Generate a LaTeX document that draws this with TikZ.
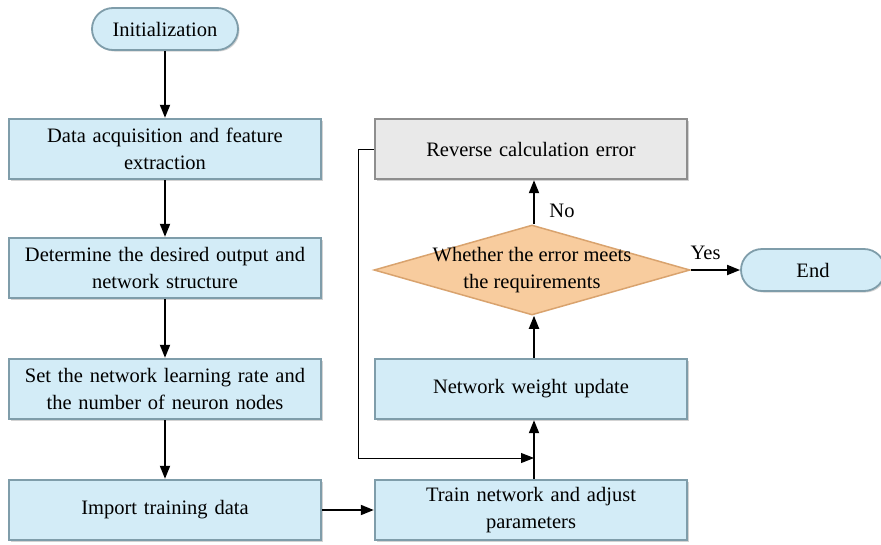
\documentclass[tikz,border=0pt]{standalone}
\usepackage{fontspec}
\setmainfont{Liberation Serif}
\usetikzlibrary{arrows.meta,shapes.geometric,shadows}
\definecolor{boxfill}{HTML}{D3ECF7}
\definecolor{boxedge}{HTML}{7F9DAA}
\definecolor{grayfill}{HTML}{E9E9E9}
\definecolor{grayedge}{HTML}{8E8E8E}
\definecolor{diafill}{HTML}{F8CC9E}
\definecolor{diaedge}{HTML}{D9A36E}
\begin{document}
\begin{tikzpicture}[x=1pt,y=-1pt,
  every node/.style={font=\fontsize{20.5}{27}\selectfont},
  procbox/.style={draw=boxedge,line width=2.4pt,fill=boxfill,minimum width=312pt,minimum height=60pt,align=center,text width=308pt,inner sep=0pt,
     drop shadow={shadow xshift=1.5pt,shadow yshift=-1.5pt,opacity=0.35}},
  graybox/.style={procbox,draw=grayedge,fill=grayfill},
  termbox/.style={draw=boxedge,line width=1.8pt,fill=boxfill,rounded corners=21pt,minimum height=42pt,align=center,inner sep=0pt,
     drop shadow={shadow xshift=1.5pt,shadow yshift=-1.5pt,opacity=0.35}},
  decbox/.style={diamond,draw=diaedge,line width=1.5pt,fill=diafill,inner sep=0pt,minimum width=316pt,minimum height=90pt},
  flow/.style={line width=1.8pt,-{Triangle[length=13pt,width=10pt]}},
  thinflow/.style={line width=1pt,-{Triangle[length=13pt,width=10pt]}},
  lbl/.style={inner sep=0pt}
]
\useasboundingbox (0,0) rectangle (881,544);
\node[termbox,minimum width=146pt] (init) at (165,29) {Initialization};
\node[procbox] (acq) at (165,149) {Data acquisition and feature\\extraction};
\node[procbox] (det) at (165,268) {Determine the desired output and\\network structure};
\node[procbox] (set) at (165,389) {Set the network learning rate and\\the number of neuron nodes};
\node[procbox] (imp) at (165,510) {Import training data};
\node[procbox] (train) at (531,510) {Train network and adjust\\parameters};
\node[procbox] (upd) at (531,389) {Network weight update};
\node[decbox] (dec) at (532,270) {};
\node[align=center,inner sep=0pt] (dectext) at (dec.center) {Whether the error meets\\the requirements};
\node[graybox] (rev) at (531,149) {Reverse calculation error};
\node[termbox,minimum width=144pt] (end) at (813,270) {End};
\coordinate (fbc) at (358,458);
\coordinate (fbend) at (534,458);
\draw[flow] (init) -- (acq);
\draw[flow] (acq) -- (det);
\draw[flow] (det) -- (set);
\draw[flow] (set) -- (imp);
\draw[flow] (imp) -- (train);
\draw[flow] (train.north -| fbend) -- (upd.south -| fbend);
\draw[flow] (upd.north -| fbend) -- (dec.south -| fbend);
\draw[flow] (dec.north -| fbend) -- (rev.south -| fbend);
\draw[flow] (dec.east) -- (end.west) node[lbl,pos=0.3,above=9pt] {Yes};
\node[lbl] at (562,211) {No};
\draw[thinflow] (rev.west) -| (fbc) -- (fbend);
\end{tikzpicture}
\end{document}
